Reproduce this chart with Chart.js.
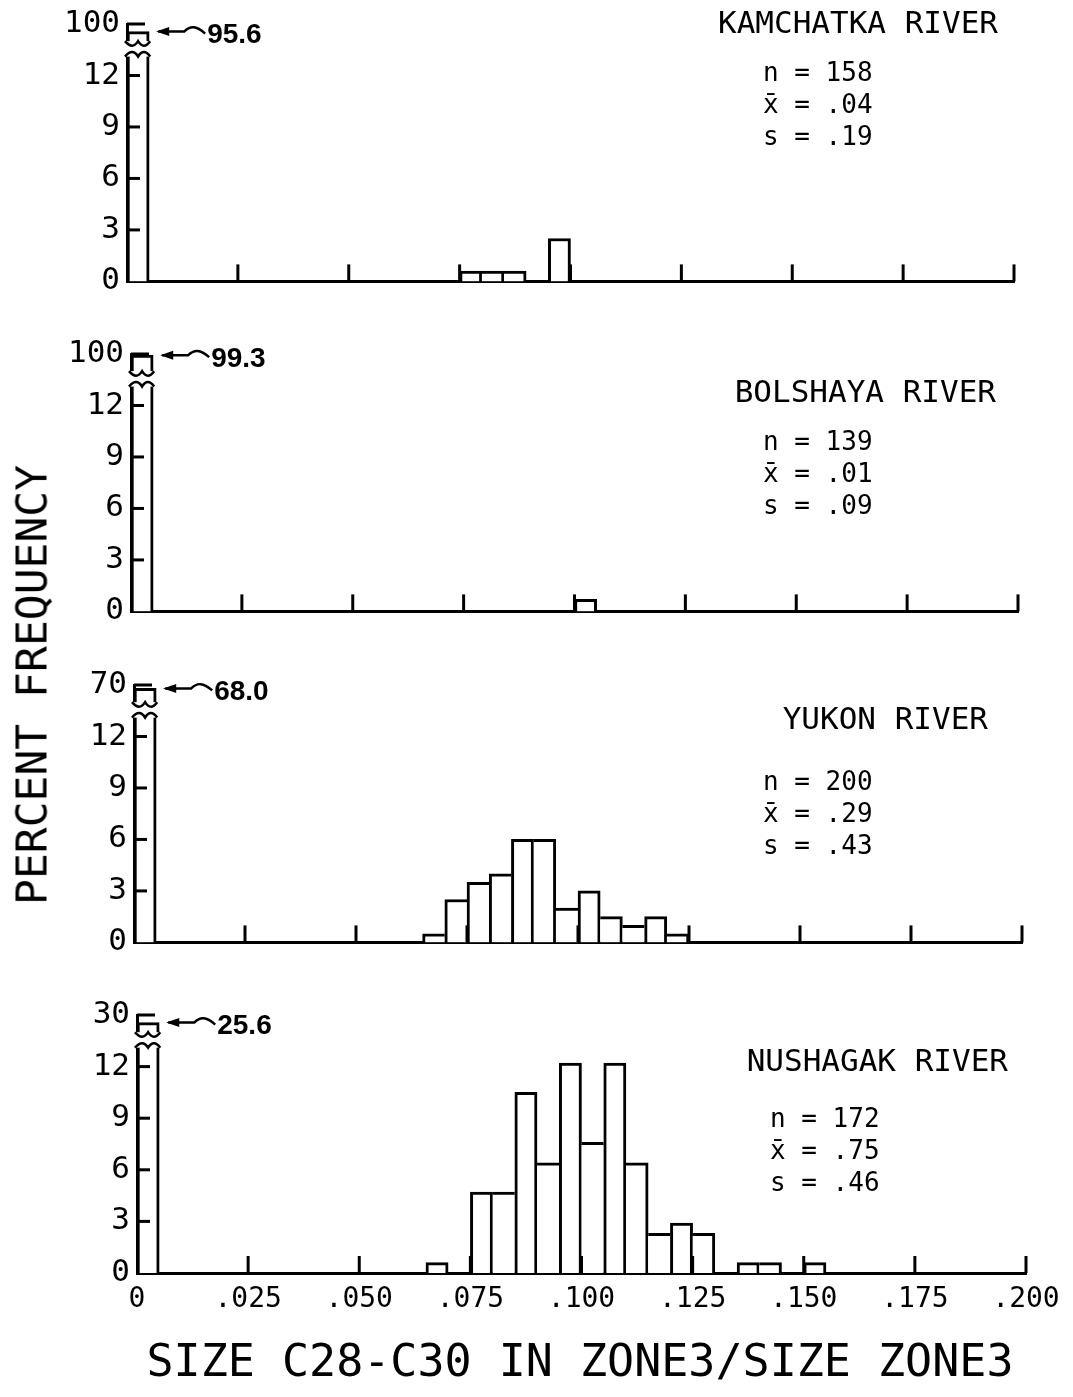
<!DOCTYPE html>
<html>
<head>
<meta charset="utf-8">
<script src="https://cdn.jsdelivr.net/npm/chart.js@4.4.1/dist/chart.umd.min.js"></script>
<style>
  body { margin: 0; background: #fff; width: 1073px; height: 1397px; position: relative; overflow: hidden;
         font-family: 'DejaVu Sans Mono', monospace; color: #000; }
  canvas { position: absolute; left: 0; }
  .t { position: absolute; white-space: pre; line-height: 1; }
  .title { font-size: 31px; }
  .stats { font-size: 26px; line-height: 32px; }
</style>
</head>
<body>
<script>
// Histogram bins: 40 bins of .005 from 0 to .200
const binCount = 40;
const binWidth = 0.005;
const binCenters = Array.from({ length: binCount }, (_, i) => (i + 0.5) * binWidth);

const xTickValues = [0, 0.025, 0.05, 0.075, 0.1, 0.125, 0.15, 0.175, 0.2];
const xTickLabels = ['0', '.025', '.050', '.075', '.100', '.125', '.150', '.175', '.200'];
const yTickValues = [0, 3, 6, 9, 12];
const topTickValue = 15;   // where the broken-axis label sits
const breakLow = 13.1, breakHigh = 14.0;

const rivers = ['KAMCHATKA RIVER', 'BOLSHAYA RIVER', 'YUKON RIVER', 'NUSHAGAK RIVER'];
const topTickLabels = ['100', '100', '70', '30'];
const sampleN = ['158', '139', '200', '172'];
const sampleMean = ['.04', '.01', '.29', '.75'];
const sampleSd = ['.19', '.09', '.43', '.46'];

// percent frequency per bin
const kamchatka = [95.6, 0, 0, 0, 0,  0, 0, 0, 0, 0,  0, 0, 0, 0, 0,  0.6, 0.6, 0.6, 0, 2.5,
                   0, 0, 0, 0, 0,  0, 0, 0, 0, 0,  0, 0, 0, 0, 0,  0, 0, 0, 0, 0];
const bolshaya  = [99.3, 0, 0, 0, 0,  0, 0, 0, 0, 0,  0, 0, 0, 0, 0,  0, 0, 0, 0, 0,
                   0.7, 0, 0, 0, 0,  0, 0, 0, 0, 0,  0, 0, 0, 0, 0,  0, 0, 0, 0, 0];
const yukon     = [68.0, 0, 0, 0, 0,  0, 0, 0, 0, 0,  0, 0, 0, 0.5, 2.5,  3.5, 4.0, 6.0, 6.0, 2.0,
                   3.0, 1.5, 1.0, 1.5, 0.5,  0, 0, 0, 0, 0,  0, 0, 0, 0, 0,  0, 0, 0, 0, 0];
const nushagak  = [25.6, 0, 0, 0, 0,  0, 0, 0, 0, 0,  0, 0, 0, 0.6, 0,  4.7, 4.7, 10.5, 6.4, 12.2,
                   7.6, 12.2, 6.4, 2.3, 2.9,  2.3, 0, 0.6, 0.6, 0,  0.6, 0, 0, 0, 0,  0, 0, 0, 0, 0];
const series = [kamchatka, bolshaya, yukon, nushagak];

// page placement of each panel (axis pixels)
const panels = [
  { x0: 127, x1: 1014, base: 282,  below: 25, titleRight: 998,  titleY: 22,   statsLeft: 763, statsY: 72 },
  { x0: 131, x1: 1018, base: 612,  below: 25, titleRight: 996,  titleY: 391,  statsLeft: 763, statsY: 441 },
  { x0: 134, x1: 1022, base: 943,  below: 25, titleRight: 988,  titleY: 718,  statsLeft: 763, statsY: 781 },
  { x0: 137, x1: 1026, base: 1273, below: 70, titleRight: 1008, titleY: 1060, statsLeft: 770, statsY: 1118 }
];
const pxPerUnit = 17.2;
const above = 290;

// values past the break are drawn in the short segment above it
function broken(v, top) {
  return v <= breakLow ? v : Math.max(14.3, topTickValue - (top - v) * 0.1);
}

function addText(txt, cls, css) {
  const d = document.createElement('div');
  d.className = 't ' + cls;
  d.textContent = txt;
  Object.assign(d.style, css);
  document.body.appendChild(d);
}

function panelMarks(values, topLabel) {
  return {
    id: 'panelMarks',
    afterDraw(chart) {
      const { ctx, chartArea: a, scales: { x, y } } = chart;
      const line = (xa, ya, xb, yb) => { ctx.beginPath(); ctx.moveTo(xa, ya); ctx.lineTo(xb, yb); ctx.stroke(); };
      ctx.save();
      ctx.strokeStyle = '#000';
      ctx.lineWidth = 3;
      // tick marks point into the plot
      x.ticks.forEach(t => {
        if (t.value === 0) return;
        const px = x.getPixelForValue(t.value);
        line(px, a.bottom, px, a.bottom - 17);
      });
      y.ticks.forEach(t => {
        if (t.value === 0) return;
        const py = y.getPixelForValue(t.value);
        line(a.left, py, a.left + (t.value === topTickValue ? 18 : 13), py);
      });
      // axis break on the first bar
      const xl = x.getPixelForValue(0), xr = x.getPixelForValue(binWidth), w = xr - xl;
      const lo = y.getPixelForValue(breakLow), hi = y.getPixelForValue(breakHigh);
      ctx.fillStyle = '#fff';
      ctx.fillRect(xl - 4, hi, w + 8, lo - hi);
      ctx.lineWidth = 2.5;
      ctx.beginPath();
      ctx.moveTo(xl - 2, lo);
      ctx.quadraticCurveTo(xl + w * 0.25, lo - 9, xl + w * 0.5, lo);
      ctx.quadraticCurveTo(xl + w * 0.75, lo - 9, xr + 1, lo);
      ctx.stroke();
      ctx.beginPath();
      ctx.moveTo(xl - 2, hi);
      ctx.quadraticCurveTo(xl + w * 0.25, hi + 9, xl + w * 0.5, hi);
      ctx.quadraticCurveTo(xl + w * 0.75, hi + 9, xr + 1, hi);
      ctx.stroke();
      // arrow to the true value of the first bar
      const yt = y.getPixelForValue(broken(values[0], +topLabel));
      const xs = xr + 3;
      ctx.lineWidth = 2.4;
      ctx.beginPath();
      ctx.moveTo(xs + 6, yt);
      ctx.lineTo(xs + 32, yt);
      ctx.bezierCurveTo(xs + 38, yt - 6, xs + 44, yt - 6, xs + 53, yt + 2);
      ctx.stroke();
      ctx.fillStyle = '#000';
      ctx.beginPath();
      ctx.moveTo(xs + 4, yt);
      ctx.lineTo(xs + 17, yt - 4.5);
      ctx.lineTo(xs + 17, yt + 4.5);
      ctx.closePath();
      ctx.fill();
      ctx.font = 'bold 28px "Liberation Sans", Arial, sans-serif';
      ctx.textBaseline = 'middle';
      ctx.textAlign = 'left';
      ctx.fillText(values[0].toFixed(1), xs + 55, yt + 4);
      ctx.restore();
    }
  };
}

panels.forEach((p, k) => {
  const values = series[k];
  const topLabel = topTickLabels[k];
  const canvas = document.createElement('canvas');
  canvas.width = 1073;
  canvas.height = above + p.below;
  canvas.style.top = (p.base - above) + 'px';
  document.body.appendChild(canvas);

  const showX = k === panels.length - 1;
  new Chart(canvas, {
    type: 'bar',
    data: {
      datasets: [{
        data: binCenters.map((c, i) => ({ x: c, y: values[i] ? broken(values[i], +topLabel) : null })),
        backgroundColor: '#fff',
        borderColor: '#000',
        borderWidth: (c) => {
          const i = c.dataIndex;
          if (i === undefined) return 3;
          const cur = values[i], prev = i > 0 ? values[i - 1] : 0, next = i < binCount - 1 ? values[i + 1] : 0;
          return { top: 3, left: prev < cur ? 3 : 0, right: next <= cur ? 3 : 0, bottom: 0 };
        },
        barPercentage: 1,
        categoryPercentage: 1
      }]
    },
    options: {
      responsive: false,
      animation: false,
      devicePixelRatio: 1,
      layout: { padding: { left: 0, right: 1073 - p.x1, top: above - topTickValue * pxPerUnit, bottom: 0 } },
      plugins: { legend: { display: false }, tooltip: { enabled: false } },
      scales: {
        x: {
          type: 'linear',
          min: 0,
          max: 0.2,
          offset: false,
          z: 1,
          afterBuildTicks: s => { s.ticks = xTickValues.map(v => ({ value: v })); },
          afterFit: s => { s.height = p.below; },
          ticks: {
            display: showX,
            autoSkip: false,
            maxRotation: 0,
            padding: 10,
            color: '#000',
            font: { family: "'DejaVu Sans Mono', monospace", size: 28 },
            callback: (v, i) => xTickLabels[i]
          },
          grid: { display: false, drawTicks: false },
          border: { display: true, color: '#000', width: 3 }
        },
        y: {
          type: 'linear',
          min: 0,
          max: topTickValue,
          z: 1,
          afterBuildTicks: s => { s.ticks = yTickValues.concat([topTickValue]).map(v => ({ value: v })); },
          afterFit: s => { s.width = p.x0; },
          ticks: {
            autoSkip: false,
            padding: 7,
            color: '#000',
            font: { family: "'DejaVu Sans Mono', monospace", size: 31 },
            callback: v => v === topTickValue ? topLabel : String(v)
          },
          grid: { display: false, drawTicks: false },
          border: { display: true, color: '#000', width: 3 }
        }
      }
    },
    plugins: [panelMarks(values, topLabel)]
  });

  addText(rivers[k], 'title', { right: (1073 - p.titleRight) + 'px', top: (p.titleY - 15) + 'px' });
  addText('n = ' + sampleN[k] + '\nx\u0304 = ' + sampleMean[k] + '\ns = ' + sampleSd[k], 'stats',
          { left: p.statsLeft + 'px', top: (p.statsY - 16) + 'px' });
});

addText('SIZE C28-C30 IN ZONE3/SIZE ZONE3', '', {
  left: '100px', width: '960px', textAlign: 'center', top: '1338px', fontSize: '45px'
});
addText('PERCENT FREQUENCY', '', {
  left: '32px', top: '685px', fontSize: '43px', transform: 'translate(-50%, -50%) rotate(-90deg)'
});
</script>
</body>
</html>
